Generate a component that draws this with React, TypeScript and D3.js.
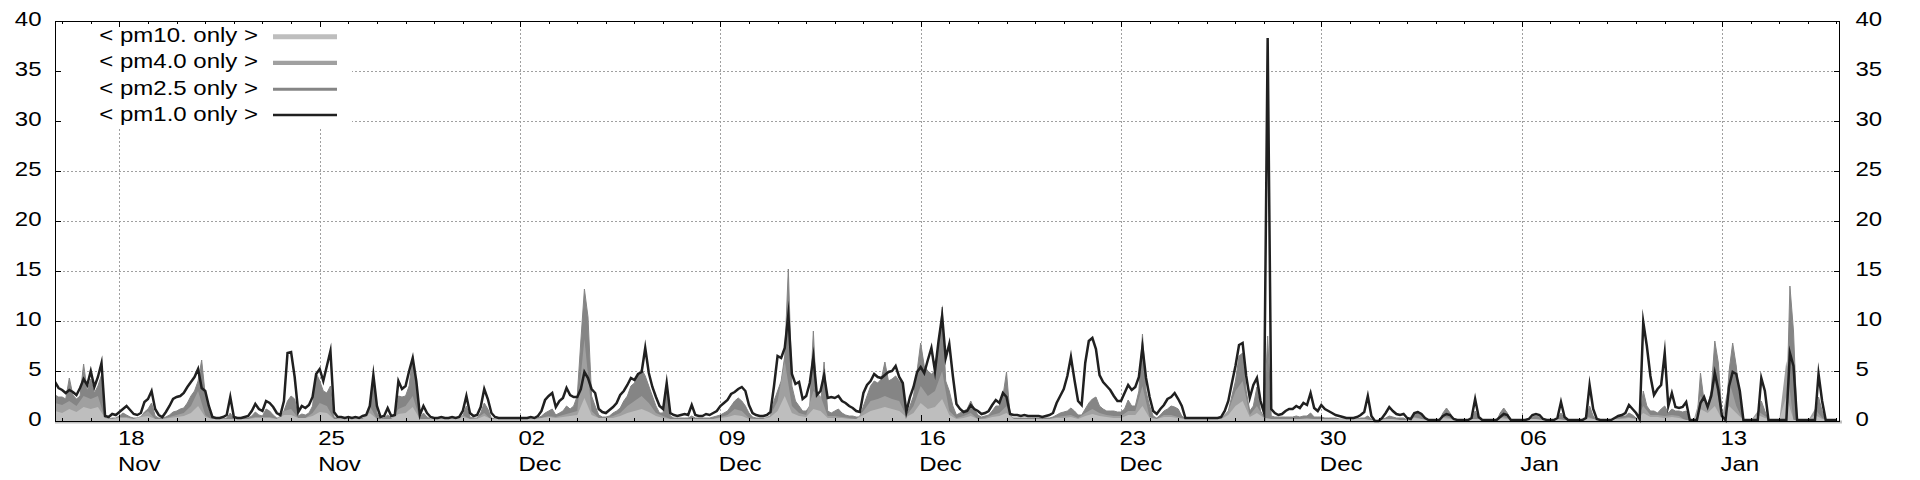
import React from 'react';
import * as d3 from 'd3';

// ---------- data ----------
const START = new Date(2019, 10, 15, 18, 0);
const END = new Date(2020, 0, 17, 3, 0);
const STEP_FINE_H = 3;   // pm1.0 and pm2.5 sampled every 3 hours from START
const STEP_COARSE_H = 6; // pm4.0 and pm10 sampled every 6 hours from START

const yTickValues = [0, 5, 10, 15, 20, 25, 30, 35, 40];
const seriesNames = ['< pm10. only >', '< pm4.0 only >', '< pm2.5 only >', '< pm1.0 only >'];
const seriesColors = ['#bebebe', '#a0a0a0', '#858585', '#202020'];
const legendWidths = [5, 4.3, 3, 2.5];

// pm1.0 only (3-hourly)
const pm1Only = [
  3.9, 3.3,
  3.1, 2.8, 3.1, 2.9, 2.6, 3.3, 4.2, 3.6, // Nov 16
  5.0, 3.4, 4.4, 5.8, 0.5, 0.4, 0.7, 0.6, // Nov 17
  0.9, 1.2, 1.5, 1.1, 0.7, 0.6, 0.8, 1.9, // Nov 18
  2.2, 3.0, 1.2, 0.6, 0.4, 0.9, 1.5, 2.2, // Nov 19
  2.4, 2.5, 2.8, 3.4, 3.9, 4.4, 5.2, 3.3, // Nov 20
  3.0, 1.5, 0.4, 0.3, 0.3, 0.4, 0.6, 2.4, // Nov 21
  0.4, 0.3, 0.3, 0.4, 0.5, 1.0, 1.7, 1.2, // Nov 22
  1.0, 2.0, 1.8, 1.4, 0.8, 0.6, 2.0, 6.8, // Nov 23
  6.9, 4.4, 0.9, 1.5, 1.3, 1.6, 2.4, 4.7, // Nov 24
  5.2, 4.0, 5.5, 7.0, 0.9, 0.4, 0.4, 0.3, // Nov 25
  0.4, 0.3, 0.4, 0.3, 0.5, 0.6, 1.5, 4.6, // Nov 26
  1.5, 0.4, 0.5, 1.3, 0.5, 0.6, 4.0, 3.2, // Nov 27
  3.5, 5.0, 6.3, 4.0, 0.6, 1.5, 0.8, 0.4, // Nov 28
  0.3, 0.3, 0.4, 0.3, 0.3, 0.4, 0.3, 0.4, // Nov 29
  1.0, 2.5, 0.8, 0.5, 0.6, 1.4, 3.2, 2.2, // Nov 30
  0.8, 0.4, 0.3, 0.3, 0.3, 0.3, 0.3, 0.3, // Dec 1
  0.3, 0.3, 0.3, 0.4, 0.3, 0.5, 1.0, 2.1, // Dec 2
  2.5, 2.8, 1.4, 2.0, 2.3, 3.3, 2.6, 2.4, // Dec 3
  2.4, 3.2, 4.9, 4.3, 3.2, 2.8, 1.2, 0.9, // Dec 4
  0.8, 1.1, 1.4, 1.8, 2.6, 3.0, 3.6, 4.3, // Dec 5
  4.1, 4.7, 4.9, 7.3, 4.8, 3.4, 2.4, 1.5, // Dec 6
  1.2, 3.8, 0.8, 0.6, 0.5, 0.6, 0.7, 0.6, // Dec 7
  1.6, 0.6, 0.5, 0.5, 0.7, 0.6, 0.8, 1.0, // Dec 8
  1.5, 1.8, 2.1, 2.7, 2.9, 3.2, 3.4, 3.0, // Dec 9
  1.6, 0.8, 0.6, 0.5, 0.5, 0.6, 0.9, 3.5, // Dec 10
  6.5, 6.3, 7.3, 10.6, 4.7, 3.7, 3.9, 2.2, // Dec 11
  2.5, 3.8, 6.4, 2.6, 3.0, 4.6, 2.3, 2.4, // Dec 12
  2.3, 2.5, 2.0, 1.8, 1.5, 1.3, 1.0, 0.9, // Dec 13
  2.8, 3.6, 4.0, 4.7, 4.4, 4.3, 4.6, 4.9, // Dec 14
  5.0, 5.5, 4.4, 3.8, 0.9, 2.4, 3.4, 4.9, // Dec 15
  5.4, 4.8, 6.1, 7.3, 5.0, 8.0, 10.5, 6.3, // Dec 16
  7.7, 4.5, 1.7, 1.2, 0.9, 1.0, 1.6, 1.2, // Dec 17
  1.0, 0.7, 0.8, 1.0, 1.6, 2.1, 1.8, 2.8, // Dec 18
  2.4, 0.7, 0.6, 0.6, 0.5, 0.6, 0.5, 0.5, // Dec 19
  0.5, 0.5, 0.4, 0.5, 0.6, 0.8, 1.8, 2.5, // Dec 20
  3.2, 4.5, 6.4, 4.1, 2.0, 1.6, 5.8, 8.0, // Dec 21
  8.3, 7.2, 4.6, 3.9, 3.5, 3.1, 2.5, 2.0, // Dec 22
  2.0, 2.8, 3.6, 3.1, 3.4, 4.4, 7.4, 4.3, // Dec 23
  2.4, 1.0, 0.7, 1.2, 1.6, 2.2, 2.4, 2.8, // Dec 24
  2.2, 1.5, 0.3, 0.3, 0.3, 0.3, 0.3, 0.3, // Dec 25
  0.3, 0.3, 0.3, 0.3, 0.4, 1.0, 2.0, 3.8, // Dec 26
  5.5, 7.6, 7.8, 4.5, 2.3, 3.6, 4.3, 2.0, // Dec 27
  0.8, 38.3, 1.2, 0.8, 0.6, 0.7, 1.0, 1.2, // Dec 28
  1.2, 1.5, 1.3, 1.8, 1.6, 2.8, 1.3, 1.0, // Dec 29
  1.6, 1.2, 1.0, 0.8, 0.6, 0.5, 0.4, 0.3, // Dec 30
  0.3, 0.3, 0.4, 0.6, 0.9, 2.5, 0.5, 0.0, // Dec 31
  0.0, 0.3, 0.8, 1.4, 1.0, 0.7, 0.6, 0.7, // Jan 1
  0.3, 0.2, 0.8, 0.9, 0.7, 0.3, 0.1, 0.1, // Jan 2
  0.1, 0.1, 0.5, 0.7, 0.6, 0.2, 0.1, 0.1, // Jan 3
  0.1, 0.1, 0.3, 2.2, 0.4, 0.1, 0.1, 0.1, // Jan 4
  0.1, 0.1, 0.4, 0.7, 0.6, 0.1, 0.1, 0.1, // Jan 5
  0.1, 0.1, 0.2, 0.6, 0.7, 0.6, 0.2, 0.1, // Jan 6
  0.1, 0.1, 0.3, 1.9, 0.4, 0.1, 0.1, 0.1, // Jan 7
  0.1, 0.1, 0.3, 3.6, 1.2, 0.2, 0.1, 0.1, // Jan 8
  0.1, 0.1, 0.3, 0.5, 0.6, 0.8, 1.6, 1.2, // Jan 9
  0.8, 0.2, 9.9, 7.5, 4.5, 2.6, 3.2, 3.6, // Jan 10
  6.8, 1.5, 2.8, 1.4, 1.3, 1.4, 1.9, 0.1, // Jan 11
  0.1, 0.1, 1.8, 2.4, 1.4, 2.5, 4.8, 3.1, // Jan 12
  0.5, 0.1, 3.5, 4.9, 4.7, 3.0, 0.1, 0.1, // Jan 13
  0.1, 0.1, 0.1, 4.3, 3.0, 0.1, 0.1, 0.1, // Jan 14
  0.1, 0.1, 0.1, 6.8, 5.5, 0.1, 0.1, 0.1, // Jan 15
  0.1, 0.1, 0.1, 4.7, 2.0, 0.1, 0.1, 0.1, // Jan 16
  0.1,
];

// pm2.5 only (3-hourly)
const pm25Only = [
  2.6, 2.4,
  2.4, 2.2, 4.3, 2.6, 2.2, 2.5, 5.7, 3.0, // Nov 16
  4.2, 2.8, 3.5, 4.6, 0.3, 0.2, 0.3, 0.3, // Nov 17
  0.5, 0.8, 0.6, 0.4, 0.3, 0.3, 0.4, 0.9, // Nov 18
  1.2, 1.8, 0.5, 0.3, 0.3, 0.4, 0.6, 0.9, // Nov 19
  1.0, 1.2, 1.3, 1.8, 2.5, 3.0, 4.0, 6.1, // Nov 20
  2.6, 1.0, 0.3, 0.2, 0.2, 0.2, 0.3, 0.8, // Nov 21
  0.2, 0.2, 0.2, 0.3, 0.3, 0.5, 0.9, 0.6, // Nov 22
  0.5, 1.2, 1.0, 0.6, 0.3, 0.3, 1.0, 2.0, // Nov 23
  2.5, 2.2, 0.5, 0.7, 0.6, 0.8, 1.5, 4.8, // Nov 24
  4.0, 3.0, 2.8, 3.5, 0.4, 0.2, 0.2, 0.2, // Nov 25
  0.2, 0.2, 0.2, 0.2, 0.3, 0.3, 1.0, 3.8, // Nov 26
  0.8, 0.2, 0.3, 0.6, 0.3, 0.3, 2.5, 2.4, // Nov 27
  2.5, 3.5, 6.5, 3.0, 0.3, 0.8, 0.4, 0.2, // Nov 28
  0.2, 0.2, 0.2, 0.2, 0.2, 0.2, 0.2, 0.2, // Nov 29
  0.5, 1.5, 0.4, 0.3, 0.3, 0.8, 1.8, 1.2, // Nov 30
  0.3, 0.2, 0.2, 0.2, 0.2, 0.2, 0.2, 0.2, // Dec 1
  0.2, 0.2, 0.2, 0.2, 0.2, 0.3, 0.5, 0.8, // Dec 2
  1.0, 1.2, 0.6, 0.8, 1.0, 1.5, 1.2, 1.5, // Dec 3
  2.5, 8.0, 13.2, 10.4, 2.5, 1.5, 0.6, 0.4, // Dec 4
  0.4, 0.5, 0.8, 1.0, 1.3, 2.0, 2.5, 3.5, // Dec 5
  3.8, 4.5, 5.2, 4.5, 3.5, 2.5, 1.5, 0.8, // Dec 6
  0.8, 3.9, 0.5, 0.3, 0.3, 0.3, 0.3, 0.3, // Dec 7
  0.5, 0.3, 0.3, 0.3, 0.3, 0.3, 0.4, 0.5, // Dec 8
  0.6, 0.8, 1.0, 1.5, 2.0, 2.3, 2.0, 1.5, // Dec 9
  0.8, 0.4, 0.3, 0.3, 0.3, 0.3, 0.5, 2.0, // Dec 10
  3.0, 4.0, 6.5, 15.2, 3.5, 2.0, 1.5, 1.0, // Dec 11
  1.0, 1.5, 9.0, 1.5, 1.5, 5.9, 1.0, 0.8, // Dec 12
  1.0, 1.2, 0.8, 0.6, 0.5, 0.5, 0.4, 0.4, // Dec 13
  1.5, 2.5, 3.5, 4.0, 3.8, 4.2, 5.9, 4.0, // Dec 14
  4.2, 4.5, 4.0, 3.8, 0.5, 1.5, 2.5, 5.0, // Dec 15
  7.8, 5.5, 5.0, 4.7, 5.0, 7.0, 11.4, 4.0, // Dec 16
  3.0, 1.5, 0.6, 0.8, 1.0, 1.2, 2.0, 1.2, // Dec 17
  0.6, 0.4, 0.5, 0.6, 1.0, 1.5, 1.5, 2.5, // Dec 18
  4.9, 0.5, 0.3, 0.3, 0.3, 0.3, 0.3, 0.3, // Dec 19
  0.3, 0.3, 0.3, 0.3, 0.3, 0.4, 0.6, 0.8, // Dec 20
  0.9, 1.0, 1.3, 1.0, 0.6, 0.6, 1.2, 1.8, // Dec 21
  2.2, 2.4, 1.5, 1.2, 1.0, 1.0, 1.0, 0.9, // Dec 22
  0.9, 1.2, 2.1, 1.5, 1.5, 3.0, 8.7, 3.0, // Dec 23
  1.5, 0.5, 0.3, 0.6, 1.0, 1.2, 1.5, 1.4, // Dec 24
  1.2, 0.5, 0.2, 0.2, 0.2, 0.2, 0.2, 0.2, // Dec 25
  0.2, 0.2, 0.2, 0.2, 0.3, 0.6, 1.0, 2.5, // Dec 26
  4.0, 6.5, 6.8, 3.0, 1.0, 1.5, 3.4, 1.0, // Dec 27
  0.4, 8.5, 0.5, 0.4, 0.4, 0.4, 0.4, 0.4, // Dec 28
  0.4, 0.5, 0.4, 0.5, 0.5, 0.8, 0.4, 0.4, // Dec 29
  0.4, 0.3, 0.3, 0.3, 0.3, 0.2, 0.2, 0.2, // Dec 30
  0.2, 0.2, 0.2, 0.3, 0.3, 0.5, 0.2, 0.0, // Dec 31
  0.0, 0.2, 0.3, 0.5, 0.4, 0.3, 0.3, 0.3, // Jan 1
  0.1, 0.1, 0.8, 1.0, 0.6, 0.2, 0.0, 0.0, // Jan 2
  0.0, 0.0, 0.8, 1.3, 0.8, 0.1, 0.0, 0.0, // Jan 3
  0.0, 0.0, 0.2, 1.0, 0.2, 0.0, 0.0, 0.0, // Jan 4
  0.0, 0.0, 0.8, 1.3, 0.8, 0.0, 0.0, 0.0, // Jan 5
  0.0, 0.0, 0.1, 0.4, 0.5, 0.4, 0.1, 0.0, // Jan 6
  0.0, 0.0, 0.2, 0.8, 0.2, 0.0, 0.0, 0.0, // Jan 7
  0.0, 0.0, 0.2, 1.5, 0.5, 0.0, 0.0, 0.0, // Jan 8
  0.0, 0.0, 0.2, 0.4, 0.5, 0.5, 0.8, 0.6, // Jan 9
  0.3, 0.1, 3.0, 1.5, 1.0, 1.0, 0.8, 1.2, // Jan 10
  1.5, 0.8, 1.2, 1.0, 1.0, 0.9, 1.0, 0.0, // Jan 11
  0.0, 0.0, 4.8, 2.0, 1.5, 3.0, 8.0, 5.8, // Jan 12
  0.5, 0.0, 5.0, 7.8, 5.5, 2.0, 0.0, 0.0, // Jan 13
  0.0, 0.0, 0.0, 2.0, 1.0, 0.0, 0.0, 0.0, // Jan 14
  0.0, 0.0, 0.0, 13.5, 9.0, 0.0, 0.0, 0.0, // Jan 15
  0.0, 0.0, 0.0, 2.4, 1.0, 0.0, 0.0, 0.0, // Jan 16
  0.0,
];

// pm4.0 only (6-hourly)
const pm4Only = [
  1.8,
  1.6, 2.0, 1.5, 2.5, // Nov 16
  2.2, 2.5, 0.2, 0.2, // Nov 17
  0.4, 0.4, 0.2, 0.5, // Nov 18
  1.0, 0.2, 0.2, 0.4, // Nov 19
  0.6, 0.8, 1.5, 3.0, // Nov 20
  0.6, 0.1, 0.1, 0.2, // Nov 21
  0.1, 0.1, 0.2, 0.4, // Nov 22
  0.4, 0.4, 0.2, 1.0, // Nov 23
  1.2, 0.3, 0.3, 0.8, // Nov 24
  1.8, 1.5, 0.2, 0.1, // Nov 25
  0.1, 0.1, 0.1, 1.5, // Nov 26
  0.2, 0.2, 0.2, 1.2, // Nov 27
  1.5, 2.5, 0.2, 0.2, // Nov 28
  0.1, 0.1, 0.1, 0.1, // Nov 29
  0.6, 0.2, 0.3, 0.8, // Nov 30
  0.1, 0.1, 0.1, 0.1, // Dec 1
  0.1, 0.1, 0.1, 0.3, // Dec 2
  0.5, 0.4, 0.6, 0.8, // Dec 3
  1.0, 8.2, 1.0, 0.3, // Dec 4
  0.3, 0.5, 0.8, 1.5, // Dec 5
  2.0, 2.5, 1.8, 0.8, // Dec 6
  0.5, 0.2, 0.2, 0.2, // Dec 7
  0.2, 0.2, 0.2, 0.2, // Dec 8
  0.4, 0.6, 1.2, 1.0, // Dec 9
  0.3, 0.2, 0.2, 0.6, // Dec 10
  2.0, 6.0, 1.5, 0.8, // Dec 11
  0.6, 3.0, 2.5, 0.5, // Dec 12
  0.5, 0.4, 0.3, 0.2, // Dec 13
  1.0, 2.0, 2.2, 2.5, // Dec 14
  2.2, 2.0, 0.5, 1.5, // Dec 15
  3.5, 2.5, 3.0, 5.0, // Dec 16
  1.0, 0.3, 0.5, 0.8, // Dec 17
  0.2, 0.3, 0.6, 0.8, // Dec 18
  1.5, 0.2, 0.1, 0.1, // Dec 19
  0.1, 0.1, 0.2, 0.4, // Dec 20
  0.5, 0.6, 0.3, 0.8, // Dec 21
  1.2, 0.8, 0.6, 0.5, // Dec 22
  0.5, 1.0, 1.0, 3.5, // Dec 23
  0.4, 0.2, 0.6, 0.6, // Dec 24
  0.4, 0.1, 0.1, 0.1, // Dec 25
  0.1, 0.1, 0.2, 1.0, // Dec 26
  3.0, 4.0, 0.6, 1.5, // Dec 27
  0.3, 0.2, 0.2, 0.2, // Dec 28
  0.2, 0.2, 0.3, 0.2, // Dec 29
  0.2, 0.1, 0.1, 0.1, // Dec 30
  0.1, 0.1, 0.2, 0.0, // Dec 31
  0.0, 0.2, 0.2, 0.1, // Jan 1
  0.0, 0.4, 0.2, 0.0, // Jan 2
  0.0, 0.5, 0.3, 0.0, // Jan 3
  0.0, 0.2, 0.2, 0.0, // Jan 4
  0.0, 0.5, 0.3, 0.0, // Jan 5
  0.0, 0.2, 0.2, 0.0, // Jan 6
  0.0, 0.2, 0.1, 0.0, // Jan 7
  0.0, 0.5, 0.2, 0.0, // Jan 8
  0.0, 0.2, 0.3, 0.4, // Jan 9
  0.2, 1.5, 0.6, 0.6, // Jan 10
  0.5, 0.6, 0.5, 0.0, // Jan 11
  0.0, 2.5, 1.5, 4.0, // Jan 12
  0.3, 4.0, 1.5, 0.0, // Jan 13
  0.0, 1.0, 0.5, 0.0, // Jan 14
  0.0, 6.0, 0.0, 0.0, // Jan 15
  0.0, 1.2, 0.3, 0.0, // Jan 16
  0.0,
];

// pm10 only (6-hourly)
const pm10Only = [
  1.0,
  0.8, 1.2, 0.9, 1.4, // Nov 16
  1.2, 1.4, 0.3, 0.2, // Nov 17
  0.3, 0.3, 0.2, 0.4, // Nov 18
  0.5, 0.2, 0.2, 0.3, // Nov 19
  0.4, 0.5, 0.8, 1.5, // Nov 20
  0.4, 0.2, 0.2, 0.2, // Nov 21
  0.2, 0.2, 0.2, 0.3, // Nov 22
  0.3, 0.3, 0.2, 0.6, // Nov 23
  0.6, 0.3, 0.3, 0.5, // Nov 24
  0.9, 0.8, 0.2, 0.2, // Nov 25
  0.2, 0.2, 0.2, 0.8, // Nov 26
  0.2, 0.2, 0.2, 0.7, // Nov 27
  0.8, 1.4, 0.2, 0.2, // Nov 28
  0.2, 0.2, 0.2, 0.2, // Nov 29
  0.4, 0.2, 0.2, 0.5, // Nov 30
  0.2, 0.2, 0.2, 0.2, // Dec 1
  0.2, 0.2, 0.2, 0.3, // Dec 2
  0.4, 0.3, 0.4, 0.5, // Dec 3
  0.6, 2.3, 0.6, 0.3, // Dec 4
  0.3, 0.3, 0.5, 0.8, // Dec 5
  1.0, 1.2, 0.9, 0.5, // Dec 6
  0.3, 0.2, 0.2, 0.2, // Dec 7
  0.2, 0.2, 0.2, 0.2, // Dec 8
  0.3, 0.4, 0.6, 0.5, // Dec 9
  0.2, 0.2, 0.2, 0.4, // Dec 10
  1.0, 2.5, 0.8, 0.5, // Dec 11
  0.4, 1.2, 1.0, 0.3, // Dec 12
  0.3, 0.3, 0.2, 0.2, // Dec 13
  0.6, 1.0, 1.2, 1.4, // Dec 14
  1.2, 1.0, 0.4, 0.8, // Dec 15
  1.8, 1.2, 1.4, 2.2, // Dec 16
  0.6, 0.2, 0.3, 0.5, // Dec 17
  0.2, 0.2, 0.4, 0.5, // Dec 18
  0.8, 0.2, 0.2, 0.2, // Dec 19
  0.2, 0.2, 0.2, 0.3, // Dec 20
  0.3, 0.4, 0.2, 0.5, // Dec 21
  0.7, 0.5, 0.4, 0.3, // Dec 22
  0.3, 0.6, 0.6, 1.5, // Dec 23
  0.3, 0.2, 0.4, 0.4, // Dec 24
  0.3, 0.2, 0.2, 0.2, // Dec 25
  0.2, 0.2, 0.2, 0.6, // Dec 26
  1.5, 2.0, 0.4, 0.8, // Dec 27
  0.3, 0.2, 0.2, 0.2, // Dec 28
  0.2, 0.2, 0.2, 0.2, // Dec 29
  0.2, 0.2, 0.2, 0.2, // Dec 30
  0.2, 0.2, 0.2, 0.1, // Dec 31
  0.1, 0.2, 0.2, 0.1, // Jan 1
  0.1, 0.3, 0.2, 0.1, // Jan 2
  0.1, 0.3, 0.2, 0.1, // Jan 3
  0.1, 0.2, 0.2, 0.1, // Jan 4
  0.1, 0.3, 0.2, 0.1, // Jan 5
  0.1, 0.2, 0.2, 0.1, // Jan 6
  0.1, 0.2, 0.1, 0.1, // Jan 7
  0.1, 0.3, 0.2, 0.1, // Jan 8
  0.1, 0.2, 0.2, 0.3, // Jan 9
  0.2, 0.8, 0.4, 0.4, // Jan 10
  0.3, 0.4, 0.3, 0.1, // Jan 11
  0.1, 1.2, 0.8, 1.5, // Jan 12
  0.2, 1.5, 0.8, 0.1, // Jan 13
  0.1, 0.6, 0.3, 0.1, // Jan 14
  0.1, 2.5, 0.1, 0.1, // Jan 15
  0.1, 0.6, 0.2, 0.1, // Jan 16
  0.1,
];

// ---------- layout ----------
const W = 1920;
const H = 480;
const PL = 55, PR = 1840, PT = 21, PB = 421;
const FONT = "'Liberation Sans', Arial, Helvetica, sans-serif";
const FS = 20;
const SX = 1.2;

function Label({ x, y, anchor, children }: { x: number; y: number; anchor: string; children: React.ReactNode }) {
  return (
    <text transform={`translate(${x},${y}) scale(${SX},1)`} textAnchor={anchor} fontFamily={FONT} fontSize={FS} fill="#000">
      {children}
    </text>
  );
}

export default function App() {
  const x = d3.scaleTime().domain([START, END]).range([PL, PR]);
  const y = d3.scaleLinear().domain([0, 40]).range([PB, PT]);

  const tFine = (i: number) => d3.timeHour.offset(START, STEP_FINE_H * i);
  const tCoarse = (i: number) => d3.timeHour.offset(START, STEP_COARSE_H * i);

  const areaFine = d3.area<number>().x((_, i) => x(tFine(i))).y0(y(0)).y1((d) => y(d));
  const areaCoarse = d3.area<number>().x((_, i) => x(tCoarse(i))).y0(y(0)).y1((d) => y(d));
  const lineFine = d3.line<number>().x((_, i) => x(tFine(i))).y((d) => y(d));

  const weekTicks = d3.timeMonday.range(START, END);
  const dayTicks = d3.timeDay.range(START, END);
  const fmtDay = d3.timeFormat('%d');
  const fmtMon = d3.timeFormat('%b');

  const gridY = yTickValues.filter((v) => v > 0 && v < 40);
  const legendY = [36.8, 62.8, 89.2, 115];
  const legendBase = [42, 68, 94.5, 120.5];

  return (
    <svg width={W} height={H} style={{ position: 'absolute', left: 0, top: 0, background: '#fff' }}>
      <defs>
        <clipPath id="plotClip">
          <rect x={PL} y={0} width={PR - PL + 2} height={PB + 3} />
        </clipPath>
      </defs>
      <rect x={0} y={0} width={W} height={H} fill="#fff" />

      {/* grid */}
      <g stroke="#a0a0a0" strokeWidth={1} strokeDasharray="2,2">
        {gridY.map((v) => (
          <line key={'gy' + v} x1={PL} x2={PR} y1={Math.round(y(v)) + 0.5} y2={Math.round(y(v)) + 0.5} />
        ))}
        {weekTicks.map((d, i) => (
          <line key={'gx' + i} x1={Math.round(x(d)) + 0.5} x2={Math.round(x(d)) + 0.5} y1={PT} y2={PB} />
        ))}
      </g>

      {/* legend background box */}
      <rect x={PL + 1} y={PT + 1} width={296} height={107} fill="#fff" />

      {/* baseline band */}
      <line x1={PL} x2={PR + 2} y1={PB + 1} y2={PB + 1} stroke="#c0c0c0" strokeWidth={3} />

      {/* data */}
      <g clipPath="url(#plotClip)">
        <path d={areaFine(pm25Only) || ''} fill={seriesColors[2]} stroke={seriesColors[2]} strokeWidth={1} />
        <path d={areaCoarse(pm4Only) || ''} fill={seriesColors[1]} />
        <path d={areaCoarse(pm10Only) || ''} fill={seriesColors[0]} />
        <path d={lineFine(pm1Only) || ''} fill="none" stroke={seriesColors[3]} strokeWidth={2.5} strokeLinejoin="miter" strokeMiterlimit={20} />
      </g>

      {/* frame */}
      <rect x={PL + 0.5} y={PT + 0.5} width={PR - PL - 1} height={PB - PT} fill="none" stroke="#000" strokeWidth={1} />

      {/* ticks */}
      <g stroke="#000" strokeWidth={1}>
        {yTickValues.map((v) => {
          const yy = Math.round(y(v)) + 0.5;
          return (
            <g key={'yt' + v}>
              <line x1={PL} x2={PL + 6} y1={yy} y2={yy} />
              <line x1={PR - 6} x2={PR} y1={yy} y2={yy} />
            </g>
          );
        })}
        {dayTicks.map((d, i) => {
          const xx = Math.round(x(d)) + 0.5;
          return (
            <g key={'dt' + i}>
              <line x1={xx} x2={xx} y1={PB} y2={PB - 3} />
              <line x1={xx} x2={xx} y1={PT} y2={PT + 3} />
            </g>
          );
        })}
        {weekTicks.map((d, i) => {
          const xx = Math.round(x(d)) + 0.5;
          return (
            <g key={'wt' + i}>
              <line x1={xx} x2={xx} y1={PB} y2={PB - 6} />
              <line x1={xx} x2={xx} y1={PT} y2={PT + 6} />
            </g>
          );
        })}
      </g>

      {/* y labels */}
      {yTickValues.map((v) => (
        <g key={'yl' + v}>
          <Label x={41.5} y={y(v) + 4.5} anchor="end">{String(v)}</Label>
          <Label x={1855.5} y={y(v) + 4.5} anchor="start">{String(v)}</Label>
        </g>
      ))}

      {/* x labels */}
      {weekTicks.map((d, i) => (
        <g key={'xl' + i}>
          <Label x={x(d) - 1.5} y={445} anchor="start">{fmtDay(d)}</Label>
          <Label x={x(d) - 1.5} y={470.5} anchor="start">{fmtMon(d)}</Label>
        </g>
      ))}

      {/* legend */}
      {seriesNames.map((name, i) => (
        <g key={'lg' + i}>
          <Label x={258} y={legendBase[i]} anchor="end">{name}</Label>
          <line x1={273} x2={337} y1={legendY[i]} y2={legendY[i]} stroke={seriesColors[i]} strokeWidth={legendWidths[i]} />
        </g>
      ))}
    </svg>
  );
}
